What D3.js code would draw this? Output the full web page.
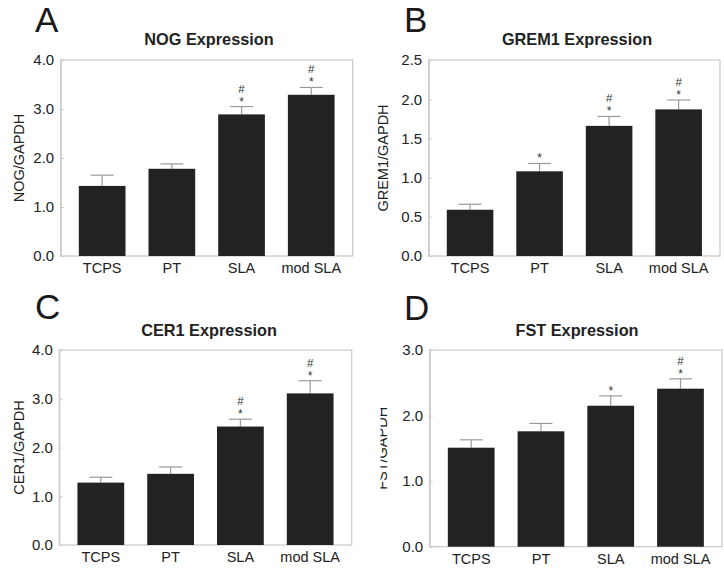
<!DOCTYPE html>
<html><head><meta charset="utf-8">
<script src="https://cdn.jsdelivr.net/npm/d3@7/dist/d3.min.js"></script>
<style>body{margin:0;background:#fff}svg{display:block}text{font-family:"Liberation Sans",Arial,sans-serif}</style>
</head><body><svg id="c" width="724" height="570"></svg>
<script>
const categories = ["TCPS", "PT", "SLA", "mod SLA"];

const nogValues = [1.43, 1.78, 2.89, 3.29];
const nogErrors = [0.22, 0.10, 0.16, 0.15];
const nogMarks = ["", "", "*#", "*#"];
const nogTicks = ["0.0", "1.0", "2.0", "3.0", "4.0"];

const grem1Values = [0.59, 1.08, 1.66, 1.87];
const grem1Errors = [0.07, 0.10, 0.12, 0.12];
const grem1Marks = ["", "*", "*#", "*#"];
const grem1Ticks = ["0.0", "0.5", "1.0", "1.5", "2.0", "2.5"];

const cer1Values = [1.28, 1.46, 2.43, 3.11];
const cer1Errors = [0.11, 0.14, 0.15, 0.26];
const cer1Marks = ["", "", "*#", "*#"];
const cer1Ticks = ["0.0", "1.0", "2.0", "3.0", "4.0"];

const fstValues = [1.51, 1.76, 2.15, 2.41];
const fstErrors = [0.12, 0.12, 0.15, 0.15];
const fstMarks = ["", "", "*", "*#"];
const fstTicks = ["0.0", "1.0", "2.0", "3.0"];

const panels = [
  {letter:"A", title:"NOG Expression", ylabel:"NOG/GAPDH", values:nogValues, errors:nogErrors, marks:nogMarks, ticks:nogTicks,
   box:{l:60.7,t:60,r:352.7,b:256}, letterPos:[35,32], titlePos:[209,45], ylabX:23.5, clipX:null},
  {letter:"B", title:"GREM1 Expression", ylabel:"GREM1/GAPDH", values:grem1Values, errors:grem1Errors, marks:grem1Marks, ticks:grem1Ticks,
   box:{l:428.7,t:60,r:720,b:256}, letterPos:[404,32], titlePos:[577,45], ylabX:388, clipX:377.5},
  {letter:"C", title:"CER1 Expression", ylabel:"CER1/GAPDH", values:cer1Values, errors:cer1Errors, marks:cer1Marks, ticks:cer1Ticks,
   box:{l:59.3,t:350,r:351.7,b:545}, letterPos:[35,319], titlePos:[209,336], ylabX:23.5, clipX:null},
  {letter:"D", title:"FST Expression", ylabel:"FST/GAPDH", values:fstValues, errors:fstErrors, marks:fstMarks, ticks:fstTicks,
   box:{l:429.7,t:350,r:722,b:546.7}, letterPos:[404,320], titlePos:[577,336], ylabX:387, clipX:380.5}
];

const svg = d3.select("#c");
const frameColor = "#c8c8c8";
const barColor = "#222222";
const errColor = "#9a9a9a";
const textColor = "#222";

panels.forEach((p, pi) => {
  const g = svg.append("g");
  const maxV = +p.ticks[p.ticks.length - 1];
  const x = d3.scaleBand().domain(categories).range([p.box.l, p.box.r]).paddingInner(0.33).paddingOuter(0.26);
  const y = d3.scaleLinear().domain([0, maxV]).range([p.box.b, p.box.t]);

  g.append("rect").attr("x", p.box.l).attr("y", p.box.t)
    .attr("width", p.box.r - p.box.l).attr("height", p.box.b - p.box.t)
    .attr("fill", "none").attr("stroke", frameColor).attr("stroke-width", 1.2);

  const yAxis = d3.axisLeft(y).tickValues(p.ticks.map(Number)).tickFormat((d, i) => p.ticks[i])
    .tickSizeInner(-3).tickSizeOuter(0).tickPadding(6.5);
  const ya = g.append("g").attr("transform", `translate(${p.box.l},0)`).call(yAxis);
  ya.select(".domain").attr("stroke", frameColor);
  ya.selectAll(".tick line").attr("stroke", frameColor);
  ya.selectAll(".tick text").attr("font-size", 15).attr("fill", textColor);

  const xAxis = d3.axisBottom(x).tickSize(0).tickPadding(7);
  const xa = g.append("g").attr("transform", `translate(0,${p.box.b})`).call(xAxis);
  xa.select(".domain").remove();
  xa.selectAll(".tick text").attr("font-size", 14.5).attr("fill", textColor);

  const data = categories.map((c, i) => ({c, v: p.values[i], e: p.errors[i], m: p.marks[i]}));

  g.selectAll(".stem").data(data).join("line")
    .attr("x1", d => x(d.c) + x.bandwidth() / 2).attr("x2", d => x(d.c) + x.bandwidth() / 2)
    .attr("y1", d => y(d.v)).attr("y2", d => y(d.v + d.e))
    .attr("stroke", errColor).attr("stroke-width", 1.2);
  g.selectAll(".cap").data(data).join("line")
    .attr("x1", d => x(d.c) + x.bandwidth() / 2 - 11.5).attr("x2", d => x(d.c) + x.bandwidth() / 2 + 11.5)
    .attr("y1", d => y(d.v + d.e)).attr("y2", d => y(d.v + d.e))
    .attr("stroke", errColor).attr("stroke-width", 1.2);

  g.selectAll(".bar").data(data).join("rect")
    .attr("x", d => x(d.c)).attr("width", x.bandwidth())
    .attr("y", d => y(d.v)).attr("height", d => y(0) - y(d.v))
    .attr("fill", barColor);

  data.forEach(d => {
    const cx = x(d.c) + x.bandwidth() / 2;
    const top = y(d.v + d.e);
    if (d.m.includes("*")) g.append("text").attr("x", cx).attr("y", top - 1)
      .attr("text-anchor", "middle").attr("font-size", 12).attr("fill", "#333").text("*");
    if (d.m.includes("#")) g.append("text").attr("x", cx).attr("y", top - 14)
      .attr("text-anchor", "middle").attr("font-size", 11.5).attr("fill", "#333").text("#");
  });

  g.append("text").attr("x", p.titlePos[0]).attr("y", p.titlePos[1]).attr("text-anchor", "middle")
    .attr("font-size", 16.3).attr("font-weight", "bold").attr("fill", textColor).text(p.title);

  g.append("text").attr("x", p.letterPos[0]).attr("y", p.letterPos[1])
    .attr("font-size", 35).attr("fill", "#1a1a1a").text(p.letter);

  let lg = g;
  if (p.clipX !== null) {
    const id = "clip" + pi;
    svg.append("clipPath").attr("id", id).append("rect")
      .attr("x", p.clipX).attr("y", p.box.t).attr("width", 40).attr("height", p.box.b - p.box.t);
    lg = g.append("g").attr("clip-path", `url(#${id})`);
  }
  lg.append("text").attr("transform", `translate(${p.ylabX},${(p.box.t + p.box.b) / 2}) rotate(-90)`)
    .attr("text-anchor", "middle").attr("font-size", 14.5).attr("fill", textColor).text(p.ylabel);
});
</script></body></html>
